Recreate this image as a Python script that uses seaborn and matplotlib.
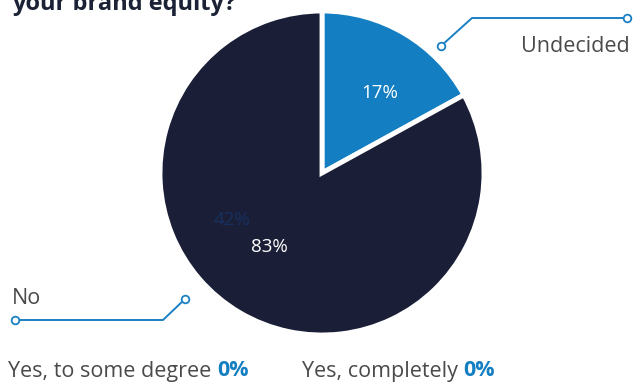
import matplotlib
matplotlib.use("Agg")
import numpy as np
import matplotlib.pyplot as plt
import seaborn as sns

# Survey answers and their shares (percent)
answers = ["Undecided", "No", "Yes, to some degree", "Yes, completely"]
shares = [17, 83, 0, 0]
slice_colors = ["#137fc2", "#1a1f37"]

title_text = "your brand equity?"

sns.set_theme(style="white")
plt.rcParams["font.family"] = ["Open Sans", "DejaVu Sans"]

W, H = 634, 387
fig = plt.figure(figsize=(W / 100, H / 100), dpi=100)
fig.patch.set_facecolor("white")

# Pie occupies a square box centred at (322, 173) px, radius 162 px
cx, cy, r = 322, 173, 162
ax = fig.add_axes([(cx - r) / W, (H - cy - r) / H, 2 * r / W, 2 * r / H])

drawn = [(a, s) for a, s in zip(answers, shares) if s > 0]
wedges, _, autotexts = ax.pie(
    [s for _, s in drawn],
    colors=slice_colors,
    startangle=90,
    counterclock=False,
    radius=1,
    autopct=lambda p: f"{p:.0f}%",
    pctdistance=0.6,
    wedgeprops=dict(edgecolor="white", linewidth=3.5),
    textprops=dict(color="white", fontsize=13.5),
)
# nudge the percentage labels a little clockwise of each slice's middle
for w, t, dist in zip(wedges, autotexts, (0.61, 0.56)):
    ang = np.deg2rad((w.theta1 + w.theta2) / 2 - 5)
    t.set_position((dist * np.cos(ang), dist * np.sin(ang)))
ax.set_xlim(-1, 1)
ax.set_ylim(-1, 1)
ax.axis("off")

# Stray label left inside the dark slice
fig.text(232 / W, 1 - 220 / H, "42%", color="#17305f", fontsize=13.5,
         ha="center", va="center")

# Title, partly above the top edge
fig.text(12 / W, 1 - 9.5 / H, title_text, color="#1b2235", fontsize=17,
         fontweight="bold", ha="left", va="baseline")

line_c = "#1a80c4"
def px(x, y):
    return (x / W, 1 - y / H)

def leader(points):
    xs = [px(x, y)[0] for x, y in points]
    ys = [px(x, y)[1] for x, y in points]
    fig.add_artist(plt.Line2D(xs, ys, color=line_c, lw=1.4,
                              transform=fig.transFigure))
    for i in (0, -1):
        fig.add_artist(plt.Line2D([xs[i]], [ys[i]], marker="o", markersize=5.5,
                                  markerfacecolor="white", markeredgecolor=line_c,
                                  markeredgewidth=1.3, transform=fig.transFigure))

leader([(441, 46), (472, 18), (627, 18)])
leader([(185, 299), (163, 320), (15, 320)])

label_c = "#4a4a4a"
fig.text(*px(630, 47), answers[0], color=label_c, fontsize=15.5, ha="right", va="center")
fig.text(*px(12, 298), answers[1], color=label_c, fontsize=15.5, ha="left", va="center")

# Zero-share answers listed beneath the pie
def zero_label(x, y, name, val):
    t = fig.text(*px(x, y), name + " ", color=label_c, fontsize=15.5,
                 ha="left", va="center")
    fig.canvas.draw()
    bb = t.get_window_extent()
    fig.text(bb.x1 / W, px(x, y)[1], f"{val}%", color="#137fc2", fontsize=15.5,
             fontweight="bold", ha="left", va="center")

zero_label(8, 371, answers[2], shares[2])
zero_label(302, 371, answers[3], shares[3])

fig.savefig("out.png", dpi=100, facecolor="white")
